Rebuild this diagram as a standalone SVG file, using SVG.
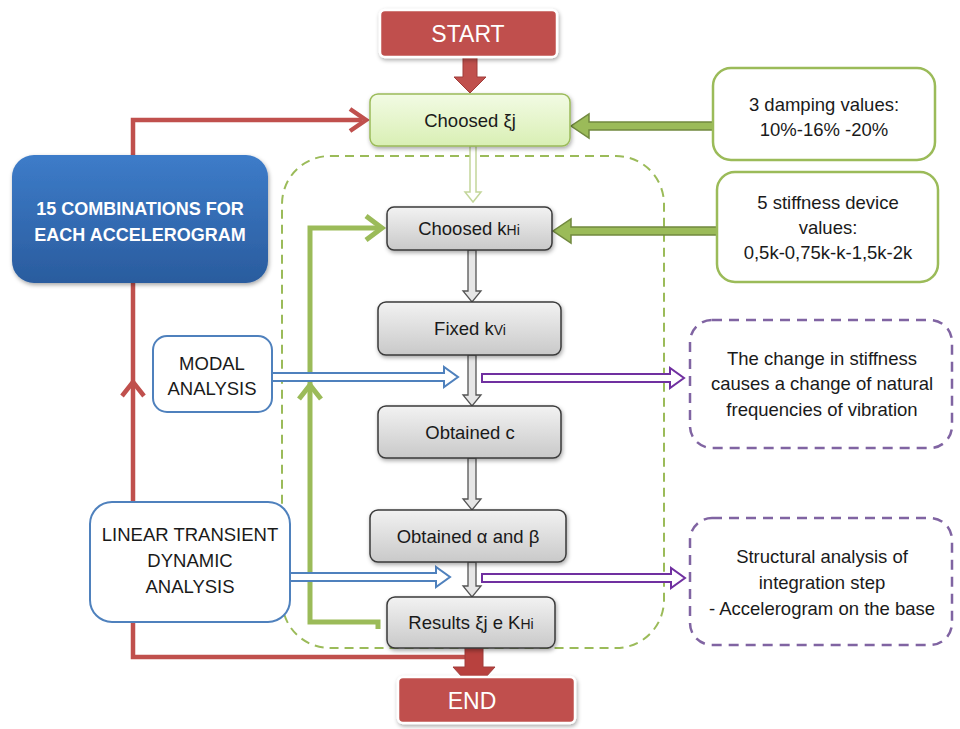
<svg xmlns="http://www.w3.org/2000/svg" width="960" height="729" viewBox="0 0 960 729">
<defs>
<style>
text{font-family:"Liberation Sans","DejaVu Sans",sans-serif;font-size:18.5px;fill:#1a1a1a;text-anchor:middle;}
text.w{fill:#fff;}
text.big{font-size:23px;}
text.bold{font-size:18px;font-weight:bold;}
tspan.sub{font-size:14px;}
.gray{fill:url(#gg);stroke:#3a3a3a;stroke-width:1.5;}
.note{fill:#fff;stroke:#9bbb59;stroke-width:2.5;}
.blue{fill:#fff;stroke:#4f81bd;stroke-width:2;}
.pd{fill:none;stroke:#8064a2;stroke-width:2.5;stroke-dasharray:10 7;}
.gd{fill:none;stroke:#9bbb59;stroke-width:2;stroke-dasharray:9 6;}
.ha{fill:#fff;stroke-width:2;}
.va{fill:#e6e6e6;stroke:#555;stroke-width:1.3;}
.red{fill:none;stroke:#c0504d;stroke-width:4.5;}
.grn{fill:none;stroke:#9bbb59;stroke-width:5;}
</style>
<linearGradient id="gg" x1="0" y1="0" x2="0" y2="1"><stop offset="0" stop-color="#f2f2f2"/><stop offset="1" stop-color="#c9c9c9"/></linearGradient>
<linearGradient id="lg" x1="0" y1="0" x2="0" y2="1"><stop offset="0" stop-color="#f2fbe4"/><stop offset="1" stop-color="#d9efb4"/></linearGradient>
<linearGradient id="bg" x1="0" y1="0" x2="0" y2="1"><stop offset="0" stop-color="#3d7cc9"/><stop offset="1" stop-color="#2a5c9e"/></linearGradient>
<filter id="sh" x="-10%" y="-10%" width="130%" height="140%"><feDropShadow dx="1" dy="2" stdDeviation="2" flood-color="#000" flood-opacity="0.35"/></filter>
</defs>

<g id="container"><rect class="gd" x="282" y="156" width="382" height="492" rx="48"/></g>

<g id="connectors">
<path class="red" d="M466,657 H133 V120 H362"/>
<path d="M350,109 L366,120 L350,131" fill="none" stroke="#c0504d" stroke-width="4.5"/>
<path d="M122,396 L133,382 L144,396" fill="none" stroke="#c0504d" stroke-width="4.5"/>
<path class="grn" d="M378,629 V622 H310 V228 H380"/>
<path d="M366,216 L382,228 L366,240" fill="none" stroke="#9bbb59" stroke-width="5"/>
<path d="M299,399 L310,385 L321,399" fill="none" stroke="#9bbb59" stroke-width="5"/>
<path d="M463,57 H477 V77 H486 L470,93 L454,77 H463 Z" fill="#c0504d" stroke="#a03c3a" stroke-width="1"/>
<path d="M465,648 H483 V667 H495 L474,690 L453,667 H465 Z" fill="#b8413e" stroke="#a03c3a" stroke-width="1"/>
<path d="M713,122 H589 V114 L571,126 L589,138 V130 H713 Z" fill="#9bbb59" stroke="#71893f" stroke-width="1.5"/>
<path d="M717,227 H571 V219 L553,231 L571,243 V235 H717 Z" fill="#9bbb59" stroke="#71893f" stroke-width="1.5"/>
<path d="M470,146 H476 V192 H481 L473,202 L465,192 H470 Z" fill="#fff" stroke="#c3d69b" stroke-width="1.5"/>
<path class="va" d="M468,250 H476 V291 H481 L472,302 L463,291 H468 Z"/>
<path class="va" d="M468,355 H476 V395 H481 L472,406 L463,395 H468 Z"/>
<path class="va" d="M468,458 H476 V499 H481 L472,510 L463,499 H468 Z"/>
<path class="va" d="M468,562 H476 V586 H481 L472,597 L463,586 H468 Z"/>
<path class="ha" stroke="#4f81bd" d="M272,373 H444 V367 L458,377 L444,387 V381 H272 Z"/>
<path class="ha" stroke="#7030a0" d="M482,374 H670 V368 L684,378 L670,388 V382 H482 Z"/>
<path class="ha" stroke="#4f81bd" d="M290,573 H436 V567 L450,577 L436,587 V581 H290 Z"/>
<path class="ha" stroke="#7030a0" d="M482,574 H671 V568 L685,578 L671,588 V582 H482 Z"/>
</g>

<g id="start"><rect x="380" y="10" width="177" height="47" rx="5" fill="#c0504d" stroke="#fff" stroke-width="2.5" filter="url(#sh)"/><text class="w big" x="468" y="42">START</text></g>

<g id="chooseXi"><rect x="370" y="94" width="200" height="52" rx="8" fill="url(#lg)" stroke="#9bbb59" stroke-width="1.5" filter="url(#sh)"/><text x="470" y="127">Choosed ξj</text></g>

<g id="damping"><rect class="note" x="713" y="68" width="222" height="92" rx="18"/><text x="824" y="111">3 damping values:</text><text x="824" y="136">10%-16% -20%</text></g>

<g id="stiffness"><rect class="note" x="717" y="172" width="221" height="110" rx="18"/><text x="828" y="209">5 stiffness device</text><text x="828" y="234">values:</text><text x="828" y="259">0,5k-0,75k-k-1,5k-2k</text></g>

<g id="combinations"><rect x="12" y="155" width="256" height="128" rx="22" fill="url(#bg)" filter="url(#sh)"/><text class="w bold" x="140" y="215">15 COMBINATIONS FOR</text><text class="w bold" x="140" y="241">EACH ACCELEROGRAM</text></g>

<g id="chooseKHi"><rect class="gray" x="387" y="207" width="165" height="43" rx="7" filter="url(#sh)"/><text x="469" y="235">Choosed k<tspan class="sub">Hi</tspan></text></g>

<g id="fixedKVi"><rect class="gray" x="378" y="302" width="183" height="53" rx="8" filter="url(#sh)"/><text x="470" y="335">Fixed k<tspan class="sub">Vi</tspan></text></g>

<g id="obtainedC"><rect class="gray" x="378" y="406" width="183" height="52" rx="8" filter="url(#sh)"/><text x="470" y="439">Obtained c</text></g>

<g id="obtainedAB"><rect class="gray" x="370" y="510" width="196" height="52" rx="8" filter="url(#sh)"/><text x="468" y="543">Obtained α and β</text></g>

<g id="results"><rect class="gray" x="387" y="597" width="168" height="51" rx="8" filter="url(#sh)"/><text x="471" y="629">Results ξj e K<tspan class="sub">Hi</tspan></text></g>

<g id="end"><rect x="398" y="677" width="177" height="46" rx="5" fill="#c0504d" stroke="#fff" stroke-width="2.5" filter="url(#sh)"/><text class="w big" x="472" y="709">END</text></g>

<g id="modal"><rect class="blue" x="153" y="336" width="119" height="76" rx="14"/><text x="212" y="370">MODAL</text><text x="212" y="395">ANALYSIS</text></g>

<g id="ltda"><rect class="blue" x="90" y="502" width="200" height="120" rx="22"/><text x="190" y="541">LINEAR TRANSIENT</text><text x="190" y="567">DYNAMIC</text><text x="190" y="593">ANALYSIS</text></g>

<g id="note1"><rect class="pd" x="690" y="320" width="262" height="128" rx="22"/><text x="822" y="365">The change in stiffness</text><text x="822" y="390">causes a change of natural</text><text x="822" y="416">frequencies of vibration</text></g>

<g id="note2"><rect class="pd" x="690" y="518" width="262" height="127" rx="22"/><text x="822" y="563">Structural analysis of</text><text x="822" y="589">integration step</text><text x="822" y="615">- Accelerogram on the base</text></g>
</svg>
